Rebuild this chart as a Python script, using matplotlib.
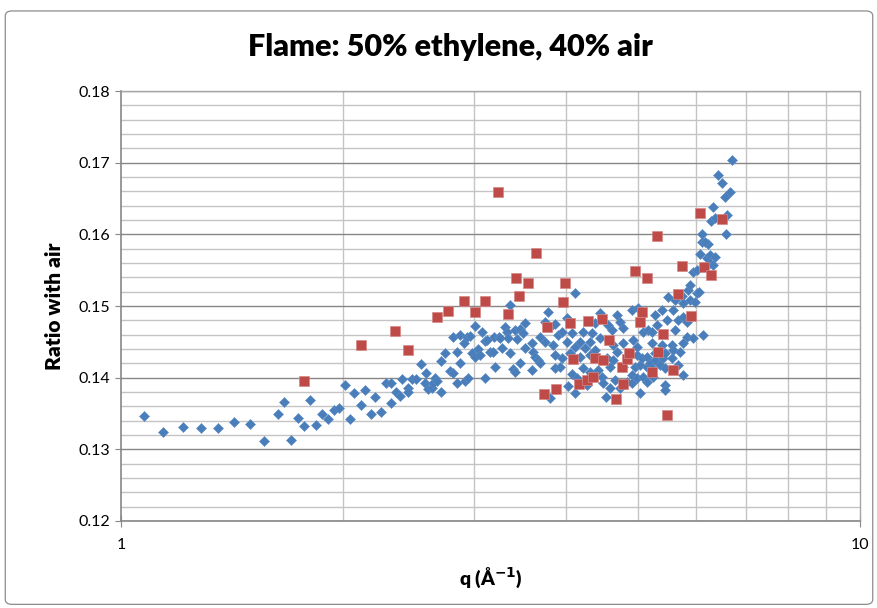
import matplotlib
matplotlib.use("Agg")
import matplotlib.pyplot as plt
from matplotlib.patches import FancyBboxPatch
from matplotlib.ticker import FixedLocator, MultipleLocator, NullFormatter

# data (q in 1/Angstrom, ratio with air)
blue_q = [
    1.075, 1.14, 1.213, 1.283, 1.353, 1.423, 1.495, 1.562, 1.630, 1.66,
    1.70, 1.735, 1.77, 1.80, 1.835, 1.87, 1.905, 1.94, 1.97, 2.01,
    2.04, 2.07, 2.11, 2.14, 2.18, 2.21, 2.25, 2.28,
    2.319, 2.316, 2.356, 2.385, 2.40, 2.445, 2.445, 2.48, 2.51, 2.546,
    2.578, 2.586, 2.60, 2.634, 2.642, 2.659, 2.676, 2.71, 2.71, 2.744,
    2.787, 2.813, 2.813, 2.849, 2.849, 2.876, 2.876, 2.912, 2.921, 2.94,
    2.949, 2.967, 2.985, 3.013, 3.013, 3.042, 3.061, 3.08, 3.109, 3.109,
    3.128,
    3.197, 3.247, 3.258, 3.158, 3.187, 3.278, 3.207, 3.309, 3.33, 3.34,
    3.361, 3.361, 3.392, 3.413, 3.413, 3.435, 3.467, 3.467, 3.50, 3.522,
    3.522, 3.60, 3.60, 3.61, 3.633, 3.667, 3.690, 3.690, 3.748, 3.748,
    3.78, 3.807, 3.807, 3.84, 3.867, 3.867, 3.867, 3.90, 3.927, 3.95,
    3.95, 4.014, 4.014, 4.027, 4.052,
    4.115, 4.077, 4.115, 4.077, 4.141, 4.115, 4.180, 4.180, 4.22, 4.22,
    4.246, 4.27, 4.286, 4.312, 4.312, 4.312, 4.34, 4.380, 4.380, 4.42,
    4.449, 4.449, 4.477, 4.49, 4.547, 4.561, 4.533, 4.590, 4.590, 4.62,
    4.633, 4.633, 4.662, 4.69, 4.69, 4.735, 4.735, 4.78, 4.78, 4.78,
    4.84, 4.915, 4.915, 4.915, 4.93, 4.961, 4.993, 4.993, 4.993, 5.008,
    5.039, 5.039, 5.07, 5.086, 5.086, 5.15, 5.15, 5.15, 5.167, 5.199,
    5.232, 5.232, 5.232, 5.25, 5.280, 5.280, 5.280, 5.313, 5.363, 5.40,
    5.40, 5.413, 5.447, 5.447, 5.447, 5.447, 5.48, 5.50, 5.568, 5.568,
    5.585, 5.585, 5.620, 5.620, 5.673, 5.673, 5.708, 5.743, 5.761, 5.761,
    5.761, 5.761, 5.833, 5.833, 5.851, 5.888, 5.888, 5.944, 5.981, 6.02,
    6.056, 6.13, 5.944, 6.02, 6.075, 6.21, 6.266, 6.266, 6.325, 6.365,
    6.11, 6.11, 6.23, 6.17, 6.58, 6.285, 6.365, 6.61, 6.325, 6.566,
    6.669, 6.504, 6.424, 6.71,
]
blue_r = [
    0.1347, 0.1324, 0.1331, 0.1330, 0.1330, 0.1338, 0.1335, 0.1312, 0.1349, 0.1366,
    0.1313, 0.1344, 0.1333, 0.1369, 0.1334, 0.1349, 0.1342, 0.1355, 0.1358, 0.1390,
    0.1342, 0.1379, 0.1362, 0.1383, 0.1349, 0.1373, 0.1352, 0.1393,
    0.1393, 0.1364, 0.1380, 0.1375, 0.1398, 0.1386, 0.1380, 0.1398, 0.1398, 0.1419,
    0.1393, 0.1406, 0.1384, 0.1386, 0.1393, 0.1400, 0.1396, 0.1423, 0.1380, 0.1434,
    0.1409, 0.1406, 0.1457, 0.1436, 0.1393, 0.1460, 0.1420, 0.1448, 0.1396, 0.1457,
    0.1400, 0.1458, 0.1434, 0.1472, 0.1429, 0.1440, 0.1432, 0.1464, 0.1451, 0.1400,
    0.1453,
    0.1457, 0.1457, 0.1455, 0.1436, 0.1436, 0.1441, 0.1415, 0.1471, 0.1464, 0.1455,
    0.1501, 0.1434, 0.1412, 0.1467, 0.1408, 0.1454, 0.1468, 0.1420, 0.1462, 0.1476,
    0.1441, 0.1448, 0.1411, 0.1436, 0.1429, 0.1425, 0.1457, 0.1420, 0.1478, 0.1450,
    0.1492, 0.1471, 0.1372, 0.1446, 0.1475, 0.1432, 0.1414, 0.1460, 0.1415, 0.1464,
    0.1427, 0.1483, 0.1450, 0.1388, 0.1434,
    0.1518, 0.1462, 0.1443, 0.1405, 0.1400, 0.1379, 0.1450, 0.1429, 0.1464, 0.1414,
    0.1441, 0.1390, 0.1400, 0.1450, 0.1432, 0.1408, 0.1462, 0.1476, 0.1439, 0.1411,
    0.1490, 0.1455, 0.1401, 0.1392, 0.1427, 0.1474, 0.1373, 0.1415, 0.1386, 0.1467,
    0.1446, 0.1425, 0.1397, 0.1487, 0.1436, 0.1478, 0.1386, 0.1469, 0.1448, 0.1415,
    0.1394, 0.1494, 0.1404, 0.1393, 0.1453, 0.1415, 0.1443, 0.1432, 0.1400, 0.1497,
    0.1418, 0.1379, 0.1427, 0.1464, 0.1401, 0.1429, 0.1415, 0.1394, 0.1467, 0.1420,
    0.1464, 0.1448, 0.1414, 0.1401, 0.1487, 0.1434, 0.1425, 0.1474, 0.1418, 0.1494,
    0.1446, 0.1427, 0.1434, 0.1414, 0.1390, 0.1383, 0.1480, 0.1513, 0.1446, 0.1427,
    0.1494, 0.1439, 0.1508, 0.1467, 0.1480, 0.1418, 0.1436, 0.1514, 0.1504, 0.1485,
    0.1448, 0.1404, 0.1478, 0.1457, 0.1522, 0.1529, 0.1508, 0.1455, 0.1506, 0.1518,
    0.1520, 0.1460, 0.1547, 0.1550, 0.1573, 0.1567, 0.1571, 0.1560, 0.1557, 0.1568,
    0.1601, 0.1589, 0.1587, 0.1590, 0.1601, 0.1618, 0.1623, 0.1627, 0.1638, 0.1652,
    0.1659, 0.1672, 0.1683, 0.1704,
]

red_q = [
    1.77, 2.11, 2.348, 2.445, 2.676, 2.77, 2.912, 3.013, 3.109, 3.237,
    3.34, 3.423, 3.456, 3.555, 3.644, 3.771, 3.736, 3.879, 3.989, 3.96,
    4.052, 4.09, 4.167, 4.27, 4.286, 4.35, 4.38, 4.477, 4.49, 4.575,
    4.676, 4.764, 4.78, 4.84, 4.87, 4.961, 5.039, 5.07, 5.15, 5.232,
    5.313, 5.33, 5.413, 5.48, 5.585, 5.673, 5.743, 5.907, 6.075, 6.15,
    6.285, 6.504,
]
red_r = [
    0.1395, 0.1446, 0.1465, 0.1439, 0.1485, 0.1493, 0.1507, 0.1492, 0.1507, 0.1659,
    0.1489, 0.1539, 0.1514, 0.1532, 0.1574, 0.1471, 0.1377, 0.1384, 0.1532, 0.1506,
    0.1476, 0.1426, 0.1391, 0.1397, 0.1479, 0.1401, 0.1427, 0.1482, 0.1425, 0.1453,
    0.1370, 0.1415, 0.1391, 0.1426, 0.1434, 0.1549, 0.1478, 0.1492, 0.1539, 0.1408,
    0.1598, 0.1436, 0.1461, 0.1348, 0.1411, 0.1517, 0.1556, 0.1486, 0.1630, 0.1554,
    0.1543, 0.1621,
]

y_ticks = [0.12, 0.13, 0.14, 0.15, 0.16, 0.17, 0.18]
x_ticks = [1, 10]

plt.rcParams['font.family'] = ['Lato', 'DejaVu Sans']

fig = plt.figure(figsize=(8.78, 6.08), dpi=100)
# chart area border
fig.patches.append(FancyBboxPatch((0.006, 0.006), 0.988, 0.976,
                                  boxstyle="round,pad=0,rounding_size=0.008",
                                  transform=fig.transFigure, fill=False,
                                  edgecolor="#8c8c8c", linewidth=0.9))

ax = fig.add_axes([0.1378, 0.1431, 0.8417, 0.7072])
ax.set_xscale("log")
ax.set_xlim(1, 10)
ax.set_ylim(0.12, 0.18)

ax.xaxis.set_major_locator(FixedLocator(x_ticks))
ax.xaxis.set_minor_locator(FixedLocator([2, 3, 4, 5, 6, 7, 8, 9]))
ax.xaxis.set_minor_formatter(NullFormatter())
ax.set_xticklabels([str(t) for t in x_ticks])
ax.yaxis.set_major_locator(FixedLocator(y_ticks))
ax.set_yticklabels(["%.2f" % t for t in y_ticks])
ax.yaxis.set_minor_locator(MultipleLocator(0.002))

ax.grid(which="major", axis="y", color="#878787", linewidth=1.0)
ax.grid(which="minor", axis="y", color="#c4c4c4", linewidth=1.0)
ax.grid(which="minor", axis="x", color="#c4c4c4", linewidth=1.0)
ax.set_axisbelow(True)

ax.tick_params(axis="both", which="major", direction="out", length=4,
               color="#878787", labelsize=11.5, pad=4)
ax.tick_params(axis="both", which="minor", length=0)
ax.tick_params(axis="x", which="major", direction="inout", length=8, pad=8)
for side in ["left", "bottom"]:
    ax.spines[side].set_color("#878787")
    ax.spines[side].set_linewidth(1.2)
for side in ["top", "right"]:
    ax.spines[side].set_color("#a6a6a6")
    ax.spines[side].set_linewidth(1.0)

ax.plot(blue_q, blue_r, linestyle="none", marker="D", markersize=5.6,
        color="#4a7ebb", markeredgecolor="#5b8bc4", markeredgewidth=0.4)
ax.plot(red_q, red_r, linestyle="none", marker="s", markersize=6.8,
        color="#be4b48", markeredgecolor="#d48886", markeredgewidth=0.5)

fig.text(0.513, 0.922, "Flame: 50% ethylene, 40% air", ha="center", va="center",
         fontsize=22, fontweight="heavy")
ax.set_ylabel("Ratio with air", fontsize=15, fontweight="heavy", labelpad=10)
ax.set_xlabel("q (Å$^{\\mathbf{-1}}$)", fontsize=14, fontweight="heavy", labelpad=10)

fig.savefig("out.png", dpi=100)
